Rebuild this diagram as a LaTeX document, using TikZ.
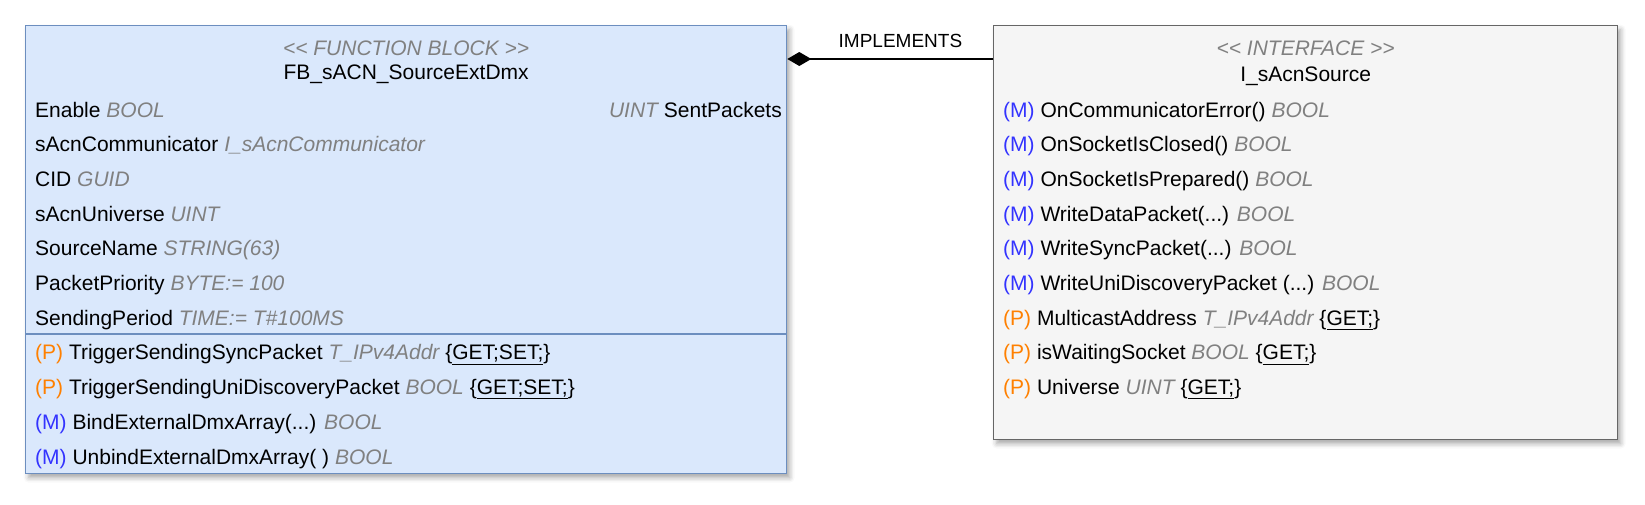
\documentclass[tikz,border=0pt]{standalone}
\usepackage{fontspec}
\setmainfont{Liberation Sans}
\usepackage{xcolor}
\usetikzlibrary{arrows.meta,shadows.blur}

\definecolor{fbfill}{HTML}{DAE8FC}
\definecolor{fbline}{HTML}{6C8EBF}
\definecolor{iffill}{HTML}{F5F5F5}
\definecolor{ifline}{HTML}{666666}
\definecolor{typegray}{HTML}{808080}
\definecolor{methblue}{HTML}{3333FF}
\definecolor{proporange}{HTML}{FF8000}

\newcommand{\ftype}[1]{{\itshape\color{typegray}#1}}
\newcommand{\mtag}{\textcolor{methblue}{(M)}}
\newcommand{\ptag}{\textcolor{proporange}{(P)}}
\newcommand{\getset}[1]{\{\underline{#1}\}}
\newcommand{\stereo}[1]{\ftype{<\kern0pt< #1 >\kern0pt>}}

\begin{document}
\begin{tikzpicture}[x=1pt,y=-1pt]
        \tikzstyle{umlbox}=[draw, line width=1.3pt, rectangle, anchor=north west, inner sep=0pt,
          blur shadow={shadow xshift=3pt, shadow yshift=-4pt, shadow blur radius=5pt, shadow opacity=35}]
        \tikzstyle{fbbox}=[umlbox, fill=fbfill, draw=fbline, minimum width=761pt, minimum height=448pt]
        \tikzstyle{ifbox}=[umlbox, fill=iffill, draw=ifline, minimum width=624pt, minimum height=414pt]
        \tikzstyle{row}=[anchor=base west, inner sep=0pt, font=\fontsize{21}{24}\selectfont]
        \tikzstyle{title}=[anchor=base, inner sep=0pt, font=\fontsize{21}{24}\selectfont]
        \tikzstyle{implements}=[line width=1.3pt, -{Diamond[length=24pt, width=14pt]}]

        \useasboundingbox (0,0) rectangle (1645,504);

        \coordinate (FB) at (25,25);
        \coordinate (IF) at (993,25);

        \node[fbbox] (fb) at (FB) {};
        \node[ifbox] (iface) at (IF) {};

        % function block
        \node[title] (fbstereo) at ([yshift=-30pt]fb.north) {\stereo{FUNCTION BLOCK}};
        \node[title] (fbname) at ([yshift=-54pt]fb.north) {FB\_sACN\_SourceExtDmx};

        \node[row] (enable) at (35,117) {Enable \ftype{BOOL}};
        \node[row, anchor=base east] (sent) at (782,117) {\ftype{UINT} SentPackets};
        \node[row] (comm) at (35,151.7) {sAcnCommunicator \ftype{I\_sAcnCommunicator}};
        \node[row] (cid) at (35,186.4) {CID \ftype{GUID}};
        \node[row] (univ) at (35,221.1) {sAcnUniverse \ftype{UINT}};
        \node[row] (srcname) at (35,255.8) {SourceName \ftype{STRING(63)}};
        \node[row] (prio) at (35,290.5) {PacketPriority \ftype{BYTE:= 100}};
        \node[row] (period) at (35,325.2) {SendingPeriod \ftype{TIME:= T\#100MS}};

        \draw[fbline, line width=1.3pt] ([yshift=-309pt]fb.north west) -- ([yshift=-309pt]fb.north east);

        \node[row] (trigsync) at (35,359.9) {\ptag{} TriggerSendingSyncPacket \ftype{T\_IPv4Addr} \getset{GET;SET;}};
        \node[row] (trigdisc) at (35,394.6) {\ptag{} TriggerSendingUniDiscoveryPacket \ftype{BOOL} \getset{GET;SET;}};
        \node[row] (bind) at (35,429.3) {\mtag{} BindExternalDmxArray(...) \ftype{BOOL}};
        \node[row] (unbind) at (35,464) {\mtag{} UnbindExternalDmxArray( ) \ftype{BOOL}};

        % interface
        \node[title] (ifstereo) at ([yshift=-30pt]iface.north) {\stereo{INTERFACE}};
        \node[title] (ifname) at ([yshift=-56pt]iface.north) {I\_sAcnSource};

        \node[row] (commerr) at (1003,117) {\mtag{} OnCommunicatorError() \ftype{BOOL}};
        \node[row] (closed) at (1003,151.7) {\mtag{} OnSocketIsClosed() \ftype{BOOL}};
        \node[row] (prepared) at (1003,186.4) {\mtag{} OnSocketIsPrepared() \ftype{BOOL}};
        \node[row] (wdata) at (1003,221.1) {\mtag{} WriteDataPacket(...) \ftype{BOOL}};
        \node[row] (wsync) at (1003,255.8) {\mtag{} WriteSyncPacket(...) \ftype{BOOL}};
        \node[row] (wdisc) at (1003,290.5) {\mtag{} WriteUniDiscoveryPacket (...) \ftype{BOOL}};
        \node[row] (mcast) at (1003,325.2) {\ptag{} MulticastAddress \ftype{T\_IPv4Addr} \getset{GET;}};
        \node[row] (waiting) at (1003,359.9) {\ptag{} isWaitingSocket \ftype{BOOL} \getset{GET;}};
        \node[row] (universe) at (1003,394.6) {\ptag{} Universe \ftype{UINT} \getset{GET;}};

        % relation
        \draw[implements] ([yshift=-34pt]iface.north west) -- node[pos=0.45, above=11pt, inner sep=0pt, font=\fontsize{19}{21}\selectfont] {IMPLEMENTS} ([yshift=-34pt]fb.north east);
      \end{tikzpicture}
\end{document}
